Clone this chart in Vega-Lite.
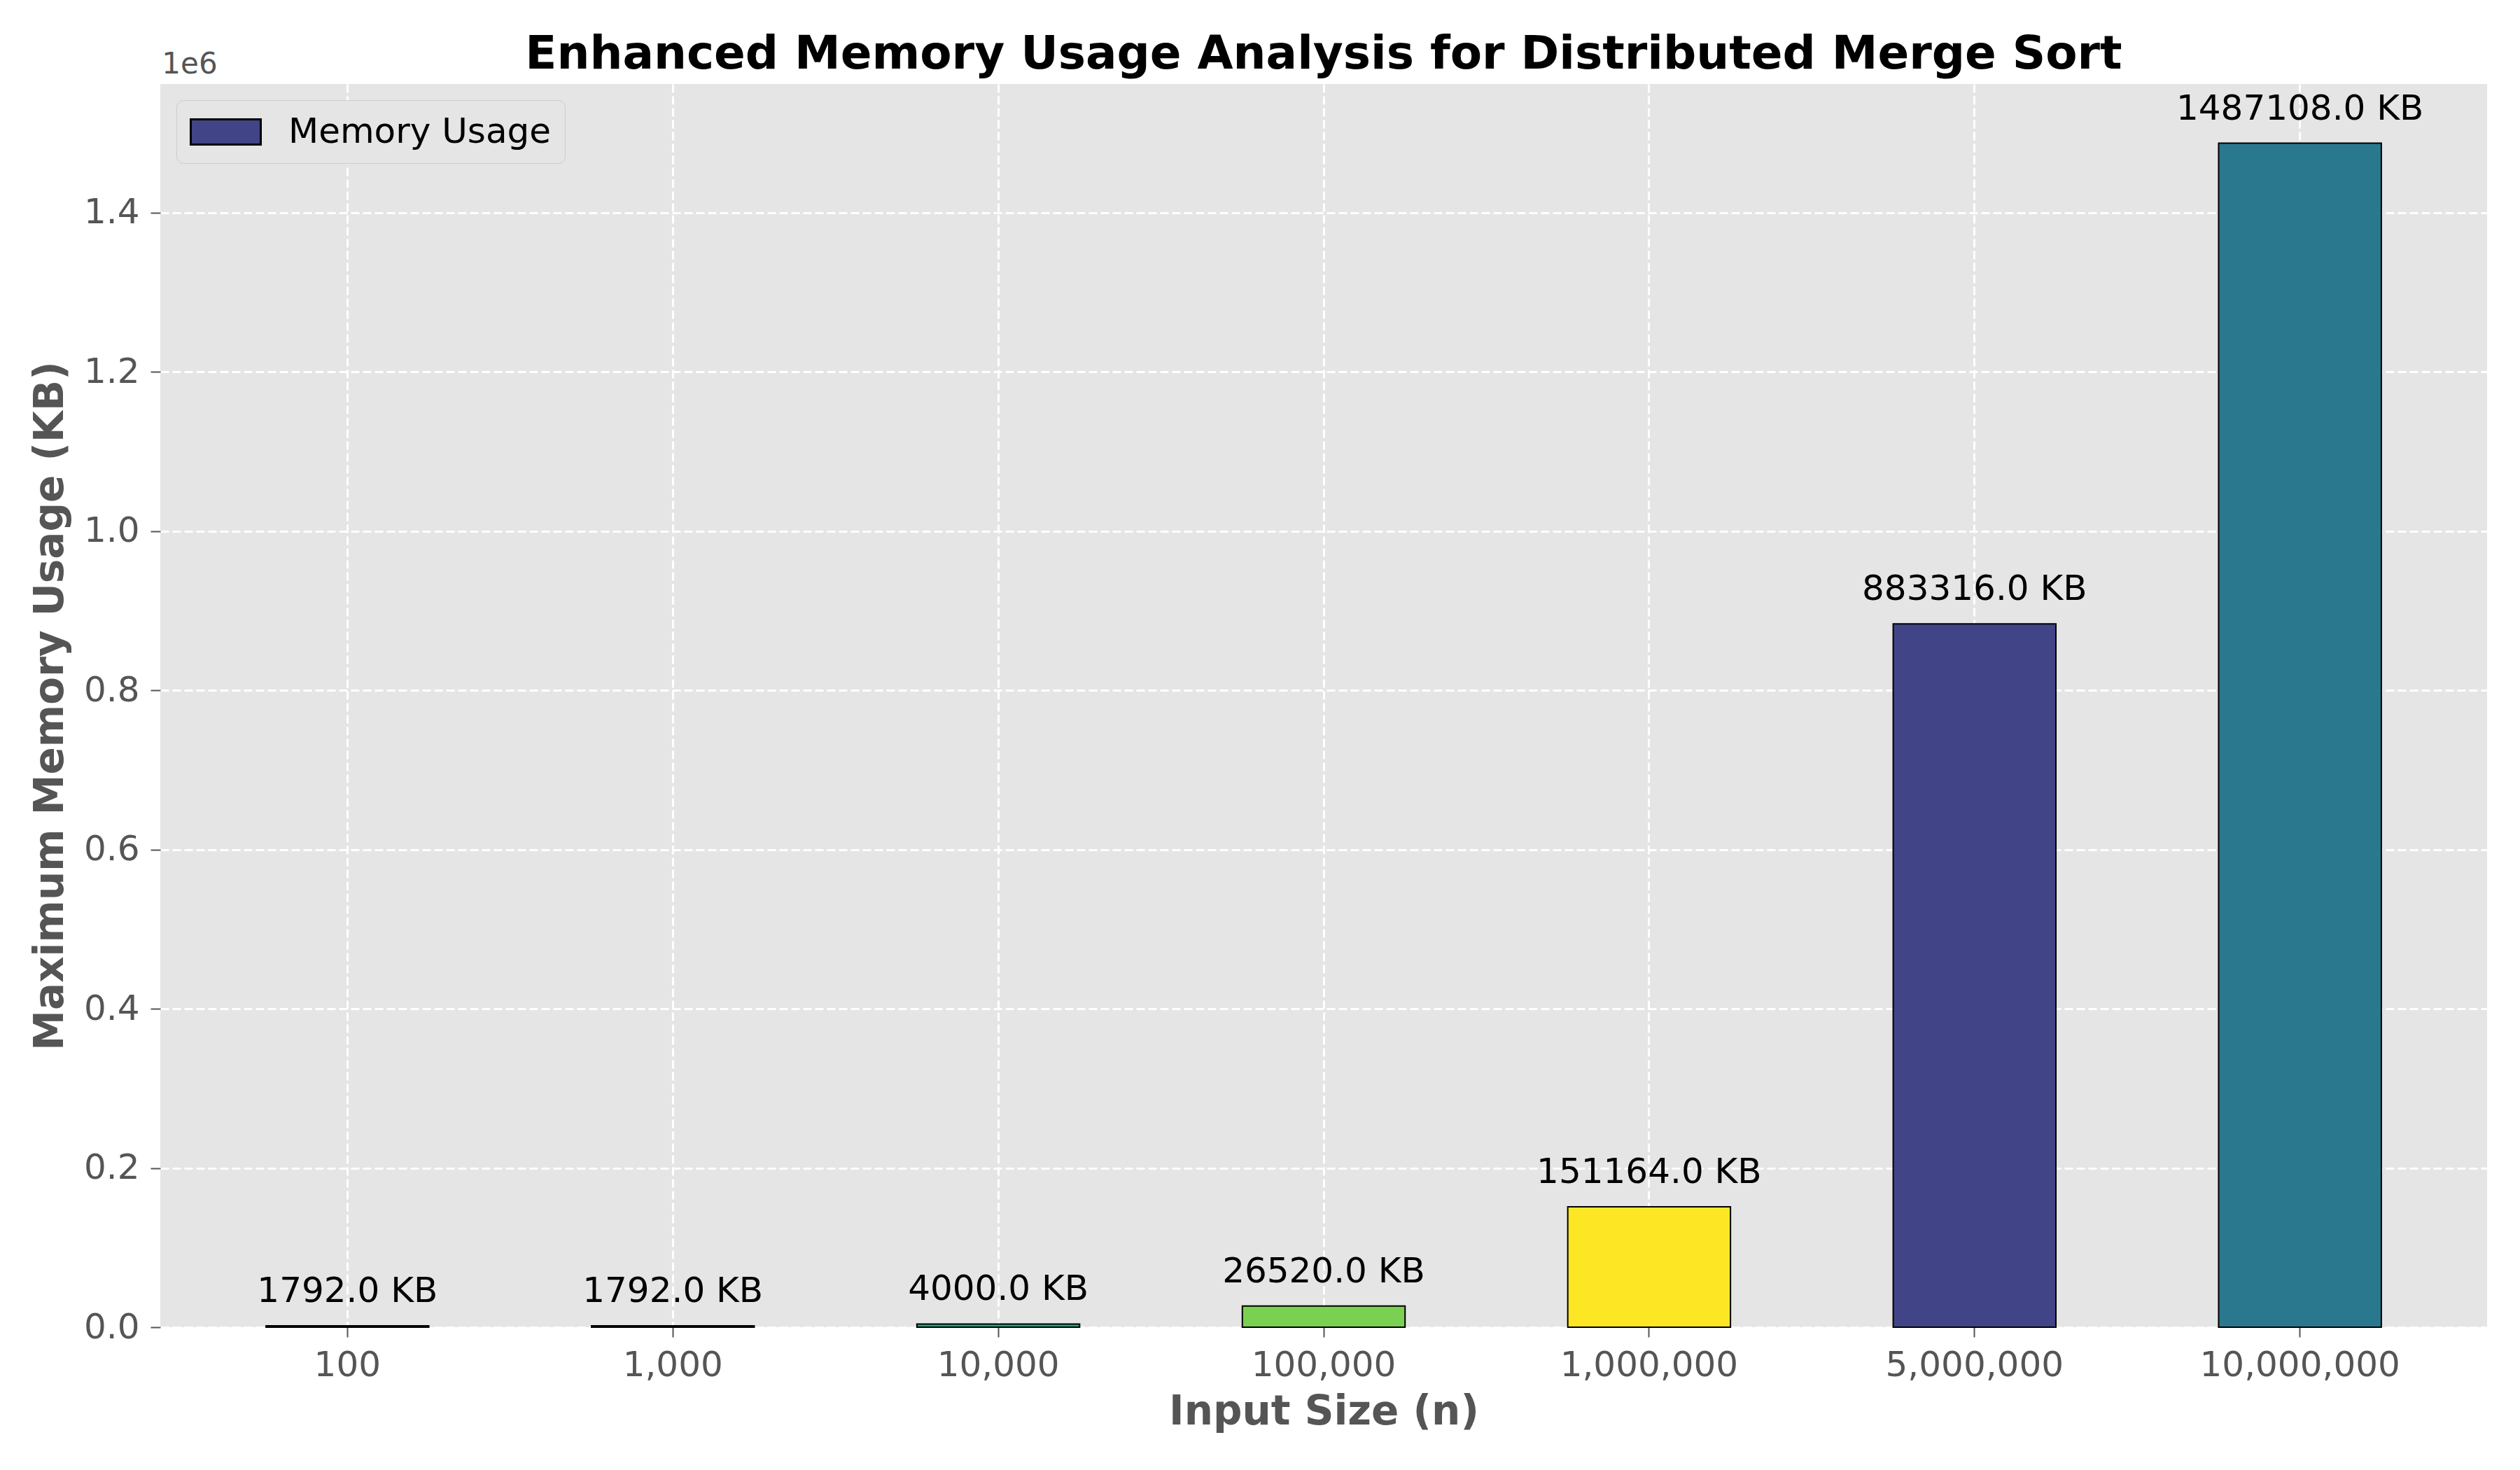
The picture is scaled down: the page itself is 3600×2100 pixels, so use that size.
{
  "$schema": "https://vega.github.io/schema/vega-lite/v6.json",
  "autosize": "none",
  "width": 3324,
  "height": 1776,
  "padding": {"left": 229, "top": 120, "right": 47, "bottom": 204},
  "background": "#FFFFFF",
  "config": {
    "font": "DejaVu Sans",
    "view": {"fill": "#E5E5E5", "stroke": null}
  },
  "title": {
    "text": "Enhanced Memory Usage Analysis for Distributed Merge Sort",
    "font": "DejaVu Sans",
    "fontSize": 66,
    "fontWeight": "bold",
    "color": "#000000",
    "anchor": "middle",
    "frame": "group",
    "baseline": "alphabetic",
    "offset": -93
  },
  "datasets": {
    "bars": [
      {"n": "100", "memory": 1792, "label": "1792.0 KB", "color": "#414487", "series": "Memory Usage"},
      {"n": "1,000", "memory": 1792, "label": "1792.0 KB", "color": "#2A788E", "series": "Memory Usage"},
      {"n": "10,000", "memory": 4000, "label": "4000.0 KB", "color": "#22A884", "series": "Memory Usage"},
      {"n": "100,000", "memory": 26520, "label": "26520.0 KB", "color": "#7AD151", "series": "Memory Usage"},
      {"n": "1,000,000", "memory": 151164, "label": "151164.0 KB", "color": "#FDE725", "series": "Memory Usage"},
      {"n": "5,000,000", "memory": 883316, "label": "883316.0 KB", "color": "#414487", "series": "Memory Usage"},
      {"n": "10,000,000", "memory": 1487108, "label": "1487108.0 KB", "color": "#2A788E", "series": "Memory Usage"}
    ],
    "offsetText": [
      {"n": "100", "top": 1561463, "mult": "1e6"}
    ]
  },
  "data": {"name": "bars"},
  "encoding": {
    "x": {
      "field": "n",
      "type": "nominal",
      "sort": null,
      "scale": {"paddingInner": 0.5, "paddingOuter": 0.325},
      "axis": {
        "title": "Input Size (n)",
        "titleFont": "DejaVu Sans",
        "titleFontSize": 58,
        "titleFontWeight": "bold",
        "titleColor": "#555555",
        "titlePadding": 13,
        "labelAngle": 0,
        "labelFont": "DejaVu Sans",
        "labelFontSize": 50,
        "labelColor": "#555555",
        "labelPadding": 15,
        "labelLimit": 0,
        "tickColor": "#555555",
        "tickSize": 14,
        "tickWidth": 2,
        "domain": false,
        "grid": true,
        "gridColor": "#FFFFFF",
        "gridDash": [12, 5],
        "gridWidth": 3,
        "bandPosition": 0.5
      }
    },
    "y": {
      "field": "memory",
      "type": "quantitative",
      "scale": {"domain": [0, 1561463], "nice": false, "zero": true},
      "axis": {
        "title": "Maximum Memory Usage (KB)",
        "titleFont": "DejaVu Sans",
        "titleFontSize": 58,
        "titleFontWeight": "bold",
        "titleColor": "#555555",
        "titlePadding": 18,
        "values": [0, 200000, 400000, 600000, 800000, 1000000, 1200000, 1400000],
        "labelExpr": "format(datum.value / 1000000, '.1f')",
        "labelFont": "DejaVu Sans",
        "labelFontSize": 50,
        "labelColor": "#555555",
        "labelPadding": 16,
        "tickColor": "#555555",
        "tickSize": 14,
        "tickWidth": 2,
        "domain": false,
        "grid": true,
        "gridColor": "#FFFFFF",
        "gridDash": [12, 5],
        "gridWidth": 3
      }
    }
  },
  "layer": [
    {
      "mark": {"type": "bar", "strokeWidth": 2},
      "encoding": {
        "fill": {"field": "color", "type": "nominal", "scale": null},
        "stroke": {
          "field": "series",
          "type": "nominal",
          "scale": {"range": ["#000000"]},
          "legend": {
            "title": null,
            "orient": "none",
            "legendX": 23,
            "legendY": 23,
            "symbolType": "M-1,-0.72H3V0.72H-1Z",
            "symbolSize": 2500,
            "symbolFillColor": "#414487",
            "symbolStrokeColor": "#000000",
            "symbolStrokeWidth": 3,
            "labelFont": "DejaVu Sans",
            "labelFontSize": 50,
            "labelColor": "#000000",
            "labelOffset": 88,
            "labelLimit": 0,
            "padding": 19,
            "fillColor": "#E5E5E5",
            "strokeColor": "#CCCCCC",
            "cornerRadius": 10
          }
        }
      }
    },
    {
      "mark": {"type": "text", "baseline": "alphabetic", "align": "center", "dy": -34, "fontSize": 50, "font": "DejaVu Sans", "color": "#000000"},
      "encoding": {"text": {"field": "label"}}
    },
    {
      "data": {"name": "offsetText"},
      "mark": {"type": "text", "baseline": "alphabetic", "align": "left", "dx": -265, "dy": -15, "fontSize": 42, "font": "DejaVu Sans", "fill": "#555555", "opacity": 1},
      "encoding": {
        "x": {"field": "n", "type": "nominal"},
        "y": {"field": "top", "type": "quantitative"},
        "text": {"field": "mult"}
      }
    }
  ]
}
